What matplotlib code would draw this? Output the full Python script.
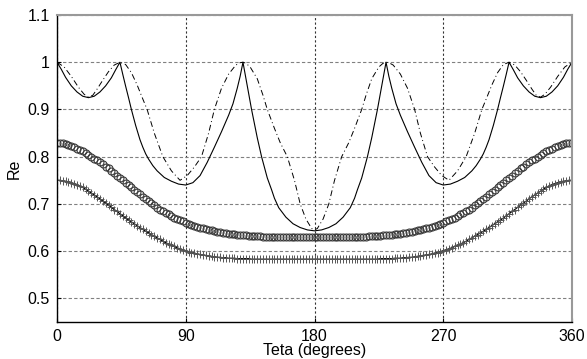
import numpy as np
import matplotlib
matplotlib.use("Agg")
import matplotlib.pyplot as plt

plt.rcParams['font.family'] = ['Liberation Sans', 'DejaVu Sans']

# angle grid for the two marker series (every 2 degrees)
teta_m = np.arange(0, 361, 2)

re_circ = [0.830, 0.829, 0.828, 0.826, 0.824, 0.822, 0.820, 0.817, 0.814, 0.811,
           0.808, 0.804, 0.800, 0.796, 0.792, 0.788, 0.784, 0.779, 0.775, 0.770,
           0.765, 0.760, 0.755, 0.750, 0.745, 0.740, 0.735, 0.730, 0.725, 0.720,
           0.715, 0.710, 0.706, 0.701, 0.697, 0.692, 0.688, 0.685, 0.681, 0.678,
           0.674, 0.671, 0.668, 0.665, 0.663, 0.660, 0.658, 0.656, 0.654, 0.652,
           0.650, 0.648, 0.647, 0.645, 0.644, 0.642, 0.641, 0.640, 0.639, 0.638,
           0.637, 0.636, 0.636, 0.635, 0.635, 0.634, 0.634, 0.633, 0.633, 0.632,
           0.632, 0.632, 0.631, 0.631, 0.631, 0.631, 0.631, 0.631, 0.631, 0.631,
           0.631, 0.631, 0.631, 0.631, 0.631, 0.631, 0.631, 0.631, 0.631, 0.631,
           0.631,
           0.631, 0.631, 0.631, 0.631, 0.631, 0.631, 0.631, 0.631, 0.631, 0.631,
           0.631, 0.631, 0.631, 0.631, 0.631, 0.631, 0.631, 0.631, 0.632, 0.632,
           0.632, 0.633, 0.633, 0.634, 0.634, 0.635, 0.635, 0.636, 0.636, 0.637,
           0.638, 0.639, 0.640, 0.641, 0.642, 0.644, 0.645, 0.647, 0.648, 0.650,
           0.652, 0.654, 0.656, 0.658, 0.660, 0.663, 0.665, 0.668, 0.671, 0.674,
           0.678, 0.681, 0.685, 0.688, 0.692, 0.697, 0.701, 0.706, 0.710, 0.715,
           0.720, 0.725, 0.730, 0.735, 0.740, 0.745, 0.750, 0.755, 0.760, 0.765,
           0.770, 0.775, 0.779, 0.784, 0.788, 0.792, 0.796, 0.800, 0.804, 0.808,
           0.811, 0.814, 0.817, 0.820, 0.822, 0.824, 0.826, 0.828, 0.829, 0.830]

re_plus = [0.750, 0.750, 0.749, 0.748, 0.747, 0.745, 0.743, 0.741, 0.738, 0.735,
           0.731, 0.727, 0.723, 0.719, 0.715, 0.711, 0.706, 0.702, 0.697, 0.693,
           0.688, 0.684, 0.679, 0.675, 0.670, 0.666, 0.662, 0.658, 0.654, 0.650,
           0.646, 0.642, 0.639, 0.635, 0.632, 0.628, 0.625, 0.621, 0.618, 0.615,
           0.612, 0.610, 0.607, 0.605, 0.603, 0.601, 0.599, 0.597, 0.596, 0.594,
           0.593, 0.592, 0.591, 0.590, 0.589, 0.588, 0.587, 0.587, 0.586, 0.586,
           0.585, 0.585, 0.585, 0.584, 0.584, 0.584, 0.584, 0.584, 0.583, 0.583,
           0.583, 0.583, 0.583, 0.583, 0.583, 0.583, 0.583, 0.583, 0.583, 0.583,
           0.583, 0.583, 0.583, 0.583, 0.583, 0.583, 0.583, 0.583, 0.583, 0.583,
           0.583,
           0.583, 0.583, 0.583, 0.583, 0.583, 0.583, 0.583, 0.583, 0.583, 0.583,
           0.583, 0.583, 0.583, 0.583, 0.583, 0.583, 0.583, 0.583, 0.583, 0.583,
           0.583, 0.583, 0.584, 0.584, 0.584, 0.584, 0.584, 0.585, 0.585, 0.585,
           0.586, 0.586, 0.587, 0.587, 0.588, 0.589, 0.590, 0.591, 0.592, 0.593,
           0.594, 0.596, 0.597, 0.599, 0.601, 0.603, 0.605, 0.607, 0.610, 0.612,
           0.615, 0.618, 0.621, 0.625, 0.628, 0.632, 0.635, 0.639, 0.642, 0.646,
           0.650, 0.654, 0.658, 0.662, 0.666, 0.670, 0.675, 0.679, 0.684, 0.688,
           0.693, 0.697, 0.702, 0.706, 0.711, 0.715, 0.719, 0.723, 0.727, 0.731,
           0.735, 0.738, 0.741, 0.743, 0.745, 0.747, 0.748, 0.749, 0.750, 0.750]

# solid curve (cusps at the peaks)
teta_s = [0, 3, 6, 10, 14, 18, 22, 26, 30, 34,
          38, 41, 44, 46, 48, 50, 52, 55, 58, 60,
          62, 64, 67, 70, 75, 80, 85, 90, 95, 100,
          105, 110, 115, 120, 123, 126, 128, 130, 133, 136,
          140, 143, 147, 150, 152, 155, 160, 165, 170, 175,
          180,
          185, 190, 195, 200, 205, 208, 210, 213, 217, 220,
          224, 227, 230, 232, 234, 237, 240, 245, 250, 255,
          260, 265, 270, 275, 280, 285, 290, 293, 296, 298,
          300, 302, 305, 308, 310, 312, 314, 316, 319, 322,
          326, 330, 334, 338, 342, 346, 350, 354, 357, 360]
re_s = [1.000, 0.985, 0.968, 0.950, 0.937, 0.928, 0.925, 0.928, 0.937, 0.950,
        0.967, 0.984, 1.000, 0.974, 0.949, 0.925, 0.900, 0.866, 0.836, 0.820,
        0.806, 0.795, 0.781, 0.770, 0.756, 0.748, 0.742, 0.740, 0.745, 0.760,
        0.788, 0.820, 0.853, 0.888, 0.912, 0.945, 0.970, 1.000, 0.950, 0.900,
        0.840, 0.800, 0.755, 0.730, 0.712, 0.692, 0.672, 0.658, 0.650, 0.645,
        0.643,
        0.645, 0.650, 0.658, 0.672, 0.692, 0.712, 0.730, 0.755, 0.800, 0.840,
        0.900, 0.950, 1.000, 0.970, 0.945, 0.912, 0.888, 0.853, 0.820, 0.788,
        0.760, 0.745, 0.740, 0.742, 0.748, 0.756, 0.770, 0.781, 0.795, 0.806,
        0.820, 0.836, 0.866, 0.900, 0.925, 0.949, 0.974, 1.000, 0.984, 0.967,
        0.950, 0.937, 0.928, 0.925, 0.928, 0.937, 0.950, 0.968, 0.985, 1.000]

# dash-dot curve (rounded peaks)
teta_d = [0, 5, 10, 15, 19, 22, 25, 28, 32, 36, 40, 44, 48, 52, 56, 60, 63, 68, 74, 80,
          86, 91, 96, 101, 106, 110, 115, 120, 125, 128, 130, 132, 135, 140, 144, 147,
          152, 156, 161, 166, 170, 174, 178, 180,
          182, 186, 190, 194, 199, 204, 208, 213, 216, 220, 225, 228, 230, 232, 235,
          240, 245, 250, 254, 259, 264, 269, 274, 280, 286, 292, 297, 300, 304, 308,
          312, 316, 320, 324, 328, 332, 335, 338, 341, 345, 350, 355, 360]
re_d = [1.000, 0.990, 0.970, 0.947, 0.932, 0.926, 0.930, 0.943, 0.962, 0.980, 0.994,
        1.000, 0.995, 0.978, 0.952, 0.922, 0.900, 0.850, 0.800, 0.770, 0.750, 0.760,
        0.778, 0.800, 0.850, 0.900, 0.945, 0.975, 0.994, 0.999, 1.000, 0.998, 0.990,
        0.965, 0.930, 0.900, 0.860, 0.830, 0.800, 0.750, 0.700, 0.668, 0.648, 0.645,
        0.648, 0.668, 0.700, 0.750, 0.800, 0.830, 0.860, 0.900, 0.930, 0.965, 0.990,
        0.998, 1.000, 0.999, 0.994, 0.975, 0.945, 0.900, 0.850, 0.800, 0.778, 0.760,
        0.750, 0.770, 0.800, 0.850, 0.900, 0.922, 0.952, 0.978, 0.995, 1.000, 0.994,
        0.980, 0.962, 0.943, 0.930, 0.926, 0.932, 0.947, 0.970, 0.990, 1.000]

xticks = [0, 90, 180, 270, 360]
yticks = [0.5, 0.6, 0.7, 0.8, 0.9, 1.0, 1.1]
ytick_labels = ['0.5', '0.6', '0.7', '0.8', '0.9', '1', '1.1']

fig = plt.figure(figsize=(5.87, 3.59), dpi=100)
ax = fig.add_axes([57 / 587, 37 / 359, 515 / 587, 307 / 359])

ax.plot(teta_s, re_s, '-', color='black', lw=0.8)
ax.plot(teta_d, re_d, linestyle=(0, (6, 3, 1, 3)), color='black', lw=0.7)
ax.plot(teta_m, re_circ, 'o', ms=5, mfc='none', mec='#3a3a3a', mew=0.8)
ax.plot(teta_m, re_plus, '-', color='black', lw=0.9)
ax.plot(teta_m, re_plus, '+', ms=6, color='#555555', mew=0.7)

ax.set_xlim(0, 360)
ax.set_ylim(0.45, 1.1)
ax.set_xticks(xticks)
ax.set_yticks(yticks)
ax.set_yticklabels(ytick_labels)
ax.tick_params(direction='in', length=3, labelsize=11.5, pad=5)

ax.grid(axis='y', color='#808080', linestyle=(0, (3, 2)), lw=0.8)
ax.grid(axis='x', color='#333333', linestyle=(0, (2, 2)), lw=0.8)
ax.set_axisbelow(True)

for side in ['top', 'right']:
    ax.spines[side].set_color('#999999')
    ax.spines[side].set_linewidth(1.5)
for side in ['left', 'bottom']:
    ax.spines[side].set_color('black')
    ax.spines[side].set_linewidth(1.0)

ax.set_xlabel('Teta (degrees)', fontsize=11.5)
ax.xaxis.set_label_coords(0.5, -0.070)
ax.set_ylabel('Re', fontsize=11.5, labelpad=4)

fig.savefig('out.png', dpi=100)
